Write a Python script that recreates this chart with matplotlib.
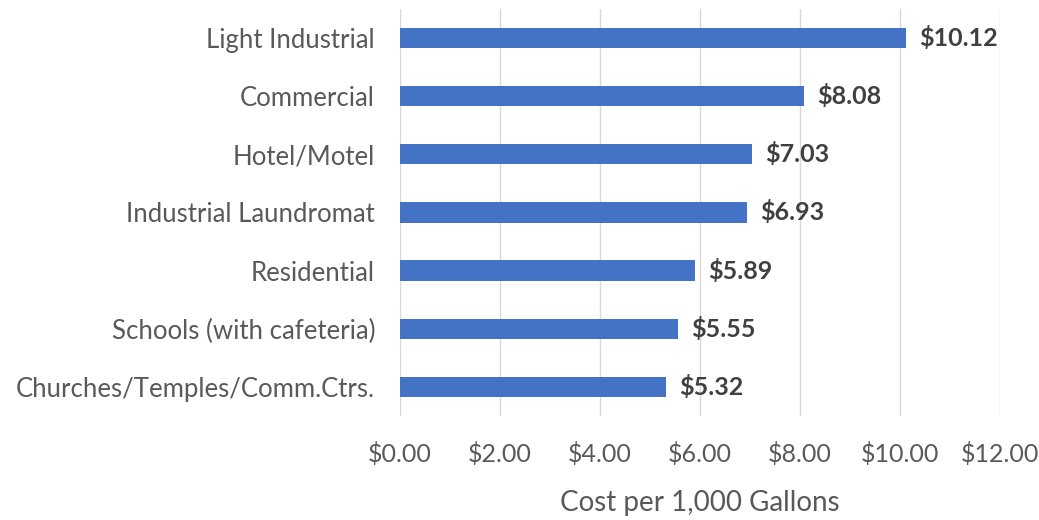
import matplotlib
matplotlib.use("Agg")
import matplotlib.pyplot as plt

categories = ["Light Industrial", "Commercial", "Hotel/Motel", "Industrial Laundromat",
              "Residential", "Schools (with cafeteria)", "Churches/Temples/Comm.Ctrs."]
values = [10.12, 8.08, 7.03, 6.93, 5.89, 5.55, 5.32]
xticks = [0, 2, 4, 6, 8, 10, 12]
xlabel = "Cost per 1,000 Gallons"

plt.rcParams['font.family'] = ['Lato', 'DejaVu Sans']

fig = plt.figure(figsize=(10.39, 5.2), dpi=100)
ax = fig.add_axes([0.385, 0.2, 0.5775, 0.783])

ypos = list(range(len(categories)))[::-1]
ax.barh(ypos, values, height=0.35, color="#4472C4", zorder=3)
for y, v in zip(ypos, values):
    ax.text(v + 0.27, y, f"${v:.2f}", va="center", ha="left", fontsize=18,
            fontweight="bold", color="#404040")

ax.set_yticks(ypos)
ax.set_yticklabels(categories, fontsize=18.5, color="#595959")
ax.set_xticks(xticks)
ax.set_xticklabels([f"${t:.2f}" for t in xticks], fontsize=18, color="#595959")
ax.set_xlim(0, 12)
ax.set_ylim(-0.5, len(categories) - 0.5)
ax.tick_params(axis='y', length=0, pad=18)
ax.tick_params(axis='x', length=0, pad=19)
ax.grid(axis='x', color="#D9D9D9", linewidth=1, zorder=0)
for s in ax.spines.values():
    s.set_visible(False)
ax.set_xlabel(xlabel, fontsize=20, color="#595959", labelpad=17)

fig.savefig("out.png", dpi=100)
